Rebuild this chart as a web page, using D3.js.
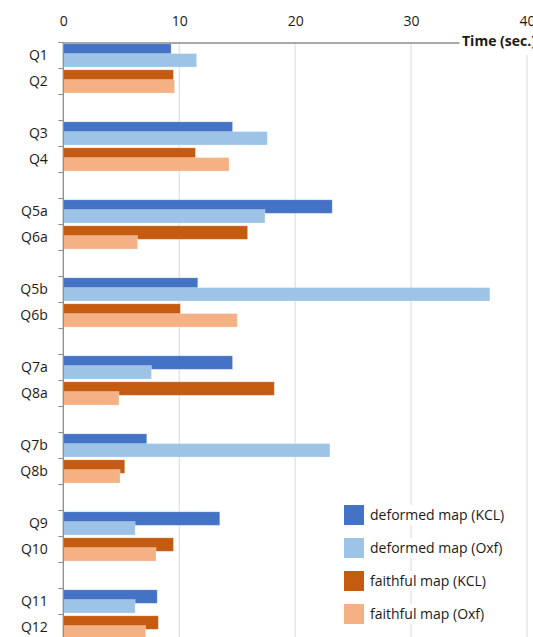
<!DOCTYPE html>
<html>
<head>
<meta charset="utf-8">
<script src="https://cdn.jsdelivr.net/npm/d3@7"></script>
<style>
  html, body { margin: 0; padding: 0; background: #fff; }
  svg { display: block; font-family: "Open Sans", sans-serif; }
</style>
</head>
<body>
<svg id="chart" width="533" height="637"></svg>
<script>
// Question pairs: first row shows the deformed map, second the faithful map
const deformedQs = ["Q1", "Q3", "Q5a", "Q5b", "Q7a", "Q7b", "Q9", "Q11"];
const faithfulQs = ["Q2", "Q4", "Q6a", "Q6b", "Q8a", "Q8b", "Q10", "Q12"];

// Mean completion time (seconds)
const deformedKCL = [9.3, 14.6, 23.2, 11.6, 14.6, 7.2, 13.5, 8.1];
const deformedOxf = [11.5, 17.6, 17.4, 36.8, 7.6, 23.0, 6.2, 6.2];
const faithfulKCL = [9.5, 11.4, 15.9, 10.1, 18.2, 5.3, 9.5, 8.2];
const faithfulOxf = [9.6, 14.3, 6.4, 15.0, 4.8, 4.9, 8.0, 7.1];

const xTicks = [0, 10, 20, 30, 40];
const axisTitle = "Time (sec.)";

const seriesNames = ["deformed map (KCL)", "deformed map (Oxf)", "faithful map (KCL)", "faithful map (Oxf)"];
const seriesColors = ["#4472C4", "#9DC3E6", "#C55A11", "#F4B183"];

(function () {
  // Row order: deformed row, faithful row, then an empty spacer row
  const rows = [];
  deformedQs.forEach((q, i) => {
    rows.push(q, faithfulQs[i]);
    if (i < deformedQs.length - 1) rows.push("gap" + i);
  });

  const W = 533, H = 637;
  const mLeft = 63.3, mRight = 527, mTop = 42.5, band = 26;

  const svg = d3.select("#chart");

  const x = d3.scaleLinear().domain([0, 40]).range([mLeft, mRight]);
  const y = d3.scaleBand().domain(rows).range([mTop, mTop + band * rows.length]).paddingInner(0).paddingOuter(0);

  // vertical gridlines
  svg.append("g").selectAll("line").data(xTicks.filter(d => d > 0)).join("line")
    .attr("x1", d => x(d)).attr("x2", d => x(d))
    .attr("y1", mTop).attr("y2", H)
    .attr("stroke", "#D9D9D9").attr("stroke-width", 1);

  // bars: two per row, the second one overlapping the first
  const barData = [];
  deformedQs.forEach((q, i) => {
    barData.push({ row: q, v: deformedKCL[i], s: 0, pos: 0 });
    barData.push({ row: q, v: deformedOxf[i], s: 1, pos: 1 });
  });
  faithfulQs.forEach((q, i) => {
    barData.push({ row: q, v: faithfulKCL[i], s: 2, pos: 0 });
    barData.push({ row: q, v: faithfulOxf[i], s: 3, pos: 1 });
  });
  const barH = band * 0.52;
  const offs = [band * 0.05, band * 0.425];

  svg.append("g").selectAll("rect")
    .data(barData.sort((a, b) => a.pos - b.pos))
    .join("rect")
    .attr("x", x(0))
    .attr("y", d => y(d.row) + offs[d.pos])
    .attr("width", d => x(d.v) - x(0))
    .attr("height", barH)
    .attr("fill", d => seriesColors[d.s])
    .attr("stroke", "rgba(255,255,255,0.35)")
    .attr("stroke-width", 0.8);

  // top value axis
  const xAxis = d3.axisTop(x).tickValues(xTicks).tickSize(0).tickPadding(0).tickFormat(d3.format("d"));
  const gx = svg.append("g").attr("transform", `translate(0,${mTop})`).call(xAxis);
  gx.select(".domain").attr("stroke", "#8C8C8C").attr("stroke-width", 1.3);
  gx.selectAll(".tick text")
    .attr("y", 26 - mTop)
    .attr("dy", null)
    .attr("font-family", "Open Sans, sans-serif")
    .attr("font-size", 14)
    .attr("fill", "#1a1a1a");

  // left category axis with tick marks at band boundaries
  const gy = svg.append("g").attr("transform", `translate(${mLeft},0)`);
  gy.append("line").attr("x1", 0).attr("x2", 0).attr("y1", mTop).attr("y2", H)
    .attr("stroke", "#8C8C8C").attr("stroke-width", 1.3);
  gy.selectAll("line.tick").data(rows).join("line").attr("class", "tick")
    .attr("x1", -5).attr("x2", 0)
    .attr("y1", d => y(d)).attr("y2", d => y(d))
    .attr("stroke", "#8C8C8C").attr("stroke-width", 1);
  gy.selectAll("text").data(rows.filter(r => !r.startsWith("gap"))).join("text")
    .attr("x", -15.5)
    .attr("y", d => y(d) + y.bandwidth() / 2)
    .attr("dy", "0.35em")
    .attr("text-anchor", "end")
    .attr("font-size", 14)
    .attr("fill", "#1a1a1a")
    .text(d => d);

  // axis title sitting on the axis line
  svg.append("rect").attr("x", 459.5).attr("y", 30).attr("width", W - 459.5).attr("height", 25).attr("fill", "#fff");
  svg.append("text")
    .attr("x", 462).attr("y", 46)
    .attr("font-size", 14).attr("font-weight", "bold")
    .attr("fill", "#1a1a1a")
    .text(axisTitle);

  // legend
  const legend = svg.append("g").attr("transform", "translate(344,505)");
  const items = legend.selectAll("g").data(seriesNames).join("g")
    .attr("transform", (d, i) => `translate(0,${i * 33})`);
  items.append("rect").attr("x", 24).attr("y", 0).attr("width", 138).attr("height", 20).attr("fill", "#fff");
  items.append("rect").attr("width", 20).attr("height", 20).attr("fill", (d, i) => seriesColors[i]);
  items.append("text")
    .attr("x", 26).attr("y", 10).attr("dy", "0.35em")
    .attr("font-size", 14).attr("fill", "#1a1a1a")
    .text(d => d);
})();
</script>
</body>
</html>
